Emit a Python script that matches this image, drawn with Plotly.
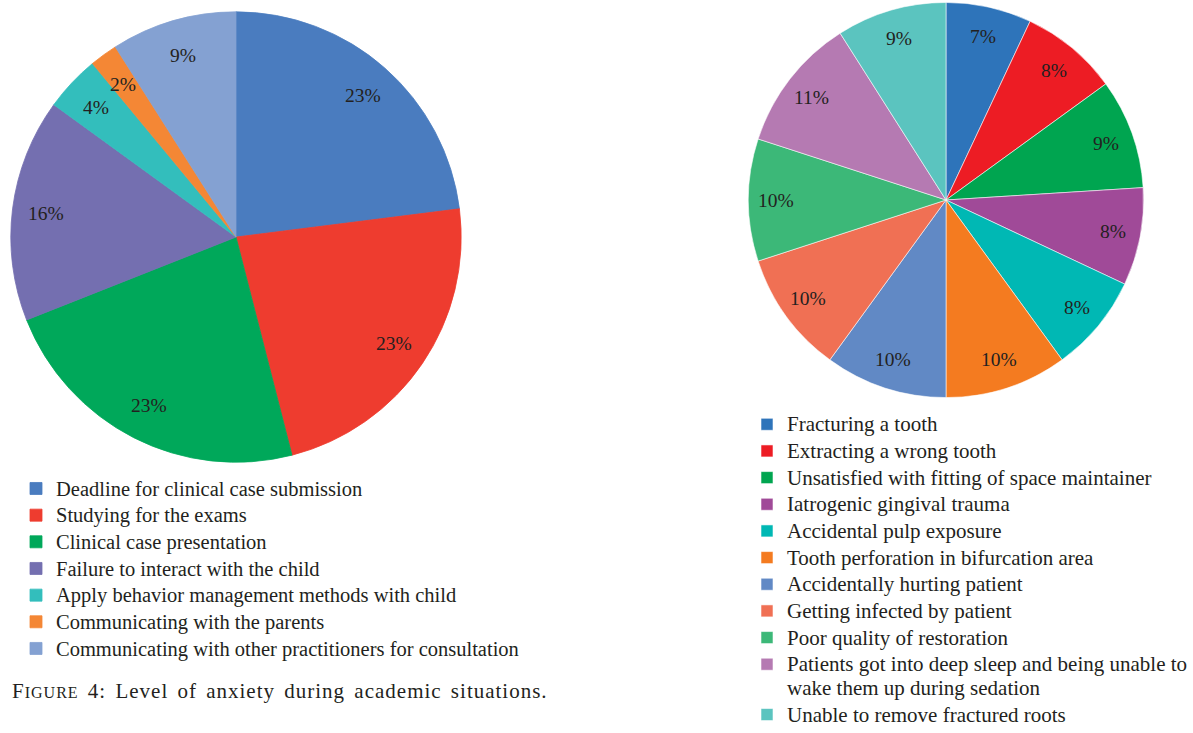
import math
import plotly.graph_objects as go

W, H = 1193, 733

# Academic situations (left pie)
academic_labels = [
    "Deadline for clinical case submission",
    "Studying for the exams",
    "Clinical case presentation",
    "Failure to interact with the child",
    "Apply behavior management methods with child",
    "Communicating with the parents",
    "Communicating with other practitioners for consultation",
]
academic_values = [23, 23, 23, 16, 4, 2, 9]
academic_colors = ["#4A7CBF", "#EE3C2F", "#00A85A", "#746FB0", "#33BEBC", "#F48735", "#84A1D2"]

# Clinical situations (right pie)
clinical_labels = [
    "Fracturing a tooth",
    "Extracting a wrong tooth",
    "Unsatisfied with fitting of space maintainer",
    "Iatrogenic gingival trauma",
    "Accidental pulp exposure",
    "Tooth perforation in bifurcation area",
    "Accidentally hurting patient",
    "Getting infected by patient",
    "Poor quality of restoration",
    "Patients got into deep sleep and being unable to<br>wake them up during sedation",
    "Unable to remove fractured roots",
]
clinical_values = [7, 8, 9, 8, 8, 10, 10, 10, 10, 11, 9]
clinical_colors = ["#2E74BA", "#ED1C24", "#00A550", "#A04A98", "#00B8B4", "#F47B20",
                   "#6189C5", "#F07054", "#3CB878", "#B57AB2", "#5BC4BF"]

SERIF = "Liberation Serif"
TEXT = "#231F20"
LABEL_PX = 19.5

# pie geometry in pixels: centre x, centre y, radius
LEFT_PIE = (236, 240, 228)
RIGHT_PIE = (946, 202.5, 200)


def px_domain(cx, cy, r):
    """Square paper-domain box around pixel centre (cx, cy) for a pie of radius r."""
    return dict(x=[(cx - r) / W, (cx + r) / W], y=[1 - (cy + r) / H, 1 - (cy - r) / H])


def legend_name(s, size):
    span = "<span style='font-size:%spx'>" % size
    return span + s.replace("<br>", "</span><br>" + span) + "</span>"


def percent_labels(values, geom, k):
    """Percentage annotations placed along each slice's mid-angle."""
    cx, cy, r = geom
    total = float(sum(values))
    out, cum = [], 0.0
    for v in values:
        theta = 2 * math.pi * (cum + v / 2.0) / total
        cum += v
        x = cx + k * r * math.sin(theta)
        y = cy - k * r * math.cos(theta)
        out.append(dict(
            text="%d%%" % round(100 * v / total),
            x=x / W, y=1 - y / H, xref="paper", yref="paper",
            xanchor="center", yanchor="middle", showarrow=False,
            font=dict(family=SERIF, size=LABEL_PX, color=TEXT),
        ))
    return out


def add_pie(labels, values, colors, geom, legend, edge, size):
    fig.add_trace(go.Pie(
        labels=[legend_name(s, size) for s in labels],
        values=values,
        sort=False,
        direction="clockwise",
        rotation=0,
        marker=dict(colors=colors, line=dict(color=edge, width=0.8)),
        textinfo="none",
        domain=px_domain(*geom),
        legend=legend,
        hoverinfo="percent",
    ))


fig = go.Figure()
add_pie(academic_labels, academic_values, academic_colors, LEFT_PIE,
        "legend", academic_colors, 20.5)
add_pie(clinical_labels, clinical_values, clinical_colors, RIGHT_PIE,
        "legend2", "rgba(255,255,255,0.7)", 21)

legend_common = dict(
    font=dict(family=SERIF, size=18.2, color=TEXT),
    bgcolor="rgba(0,0,0,0)",
    borderwidth=0,
    xanchor="left",
    yanchor="top",
    valign="top",
    itemclick=False,
    itemdoubleclick=False,
    tracegroupgap=0,
)

caption = dict(
    text="<span style='letter-spacing:1px;word-spacing:3px'>F<span style='font-size:16px'>IGURE</span>"
         " 4: Level of anxiety during academic situations.</span>",
    x=10 / W, y=1 - 700 / H,
    xref="paper", yref="paper",
    xanchor="left", yanchor="middle",
    showarrow=False,
    font=dict(family=SERIF, size=21, color=TEXT),
)

fig.update_layout(
    width=W,
    height=H,
    margin=dict(l=0, r=0, t=0, b=0),
    paper_bgcolor="white",
    plot_bgcolor="white",
    showlegend=True,
    legend=dict(x=16 / W, y=1 - 476 / H, **legend_common),
    legend2=dict(x=747 / W, y=1 - 411 / H, **legend_common),
    annotations=percent_labels(academic_values, LEFT_PIE, 0.84)
    + percent_labels(clinical_values, RIGHT_PIE, 0.85)
    + [caption],
)

fig.write_html("out.html")
